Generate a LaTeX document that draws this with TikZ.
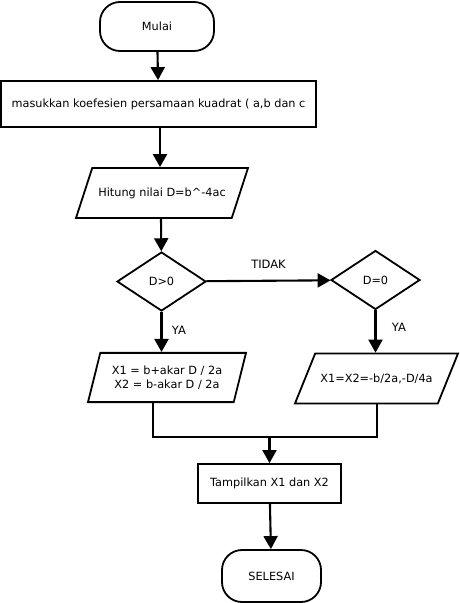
\documentclass[tikz,border=0pt]{standalone}
\usepackage{fontspec}
\setmainfont{DejaVu Sans}
\usetikzlibrary{shapes.geometric,arrows.meta}

\tikzset{
  base/.style={draw,line width=1.8pt,font=\fontsize{11.3}{14}\selectfont,inner sep=0pt},
  terminal/.style={base,rectangle,rounded corners=20pt},
  procbox/.style={base,rectangle},
  iobox/.style={base,trapezium,trapezium stretches body=true},
  decide/.style={base,diamond},
  line/.style={line width=2.1pt},
  arrow/.style={line,-{Triangle[length=13pt,width=14pt]}},
  lbl/.style={font=\fontsize{11.5}{13}\selectfont}
}

\begin{document}
\begin{tikzpicture}[x=1pt,y=-1pt]
\useasboundingbox (0,0) rectangle (459,603);
\fill[white] (0,0) rectangle (459,603);

\node (mulai)[terminal,minimum width=114pt,minimum height=49pt] at (157,26.5) {Mulai};
\node (input)[procbox,minimum width=315pt,minimum height=46pt] at (158.5,104) {masukkan koefesien persamaan kuadrat ( a,b dan c};
\node (hitung)[iobox,trapezium left angle=72,trapezium right angle=108,minimum width=172pt,inner ysep=19.5pt] at (162,193) {Hitung nilai D=b\^{}-4ac};
\node (dpos)[decide,minimum width=89pt,minimum height=59pt] at (161.5,281.5) {D>0};
\node (dnol)[decide,minimum width=89pt,minimum height=59pt] at (375.5,280) {D=0};
\node (lpara)[iobox,trapezium left angle=76,trapezium right angle=104,minimum width=158pt,inner ysep=12.8pt,align=center] at (167,377.5) {X1 = b+akar D / 2a\\ X2 = b-akar D / 2a};
\node (rpara)[iobox,trapezium left angle=68,trapezium right angle=112,minimum width=163pt,inner ysep=20pt] at (376.5,378.5) {X1=X2=-b/2a,-D/4a};
\node (tampil)[procbox,minimum width=143pt,minimum height=39pt] at (269.5,483.5) {Tampilkan X1 dan X2};
\node (selesai)[terminal,minimum width=99pt,minimum height=52pt] at (271.5,576) {SELESAI};

\draw[arrow] (mulai) -- (input);
\draw[arrow] ([xshift=1.5pt]input.south) -- ([xshift=1.5pt]input.south |- hitung.north);
\draw[arrow] ([xshift=-1pt]hitung.south) -- (dpos);
\draw[arrow] (dpos) -- node (tidak)[lbl,above=8pt]{TIDAK} (dnol);
\draw[arrow] (dpos) -- node (yakiri)[lbl,right=6pt,pos=0.45]{YA} (dpos |- lpara.north);
\draw[arrow] (dnol) -- node (yakanan)[lbl,right=12pt,pos=0.4]{YA} (dnol |- rpara.north);
\draw[line] ([xshift=-14pt]lpara.south) -- ++(0,34) coordinate (ml) -| ([xshift=0.5pt]rpara.south);
\draw[arrow] (ml -| tampil.north) -- (tampil);
\draw[arrow] (tampil) -- (selesai);
\end{tikzpicture}
\end{document}
